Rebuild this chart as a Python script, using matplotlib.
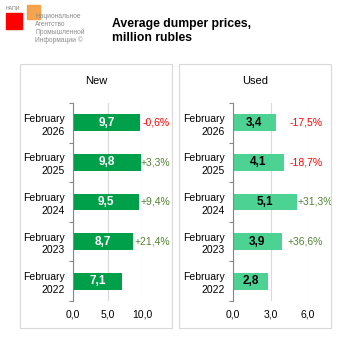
import matplotlib
matplotlib.use('Agg')
import matplotlib.pyplot as plt
from matplotlib.patches import Rectangle

plt.rcParams['font.family'] = ['Liberation Sans', 'DejaVu Sans']

# data
categories = ['February\n2026', 'February\n2025', 'February\n2024', 'February\n2023', 'February\n2022']
new_prices = [9.7, 9.8, 9.5, 8.7, 7.1]
new_change = ['-0,6%', '+3,3%', '+9,4%', '+21,4%', '']
used_prices = [3.4, 4.1, 5.1, 3.9, 2.8]
used_change = ['-17,5%', '-18,7%', '+31,3%', '+36,6%', '']
new_ticks = [0, 5, 10]
used_ticks = [0, 3, 6]

W = H = 353
fig = plt.figure(figsize=(3.53, 3.53), dpi=100)

def fx(px):
    return px / W

def fy(py):
    return 1 - py / H

# panel frames
for x0, x1 in [(20, 172), (179, 331)]:
    fig.patches.append(Rectangle((fx(x0), fy(328)), fx(x1 - x0), (328 - 64) / H,
                                 transform=fig.transFigure, fill=False,
                                 edgecolor='#D9D9D9', linewidth=0.8))

# logo
fig.patches.append(Rectangle((fx(6), fy(29)), fx(16), 16 / H, transform=fig.transFigure,
                             color='#FF0000', zorder=1))
fig.patches.append(Rectangle((fx(27), fy(19)), fx(13), 14 / H, transform=fig.transFigure,
                             color='#F59A3C', alpha=0.9, zorder=1))
fig.text(fx(6), fy(8.5), 'НАПИ', fontsize=3.8, color='#7F7F7F', va='center')
for i, s in enumerate(['Национальное', 'Агентство', 'Промышленной', 'Информации ©']):
    fig.text(fx(35), fy(17 + i * 7.6), s, fontsize=4.8, color='#8C8C8C', va='center')

fig.text(fx(112), fy(31), 'Average dumper prices,\nmillion rubles', fontsize=8.8,
         fontweight='bold', va='center', ha='left', linespacing=1.15)

def panel(left_px, right_px, xmax, vals, changes, ticks, color, lblcolor, title, title_x, col_px):
    ax = fig.add_axes([fx(left_px), fy(301), fx(right_px - left_px), 198 / H])
    y = list(range(len(vals)))
    ax.barh(y, vals, height=0.42, color=color, zorder=3)
    ax.set_xlim(0, xmax)
    ax.set_ylim(len(vals) - 0.5, -0.5)
    ax.set_xticks(ticks)
    ax.set_xticklabels([f'{t:.1f}'.replace('.', ',') for t in ticks], fontsize=7.5)
    ax.set_yticks(y)
    ax.set_yticklabels(categories, fontsize=7.5, linespacing=1.35)
    ax.set_yticks([i - 0.5 for i in range(len(vals) + 1)], minor=True)
    ax.tick_params(axis='y', which='major', length=0, pad=6)
    ax.tick_params(axis='y', which='minor', length=3, color='#868686', width=0.8)
    ax.tick_params(axis='x', length=0, pad=6)
    ax.grid(axis='x', color='#D9D9D9', linewidth=0.8, zorder=0)
    for s in ['top', 'right', 'bottom']:
        ax.spines[s].set_visible(False)
    ax.spines['left'].set_color('#868686')
    ax.spines['left'].set_linewidth(0.8)
    ax.spines['left'].set_zorder(4)
    for yi, v in zip(y, vals):
        ax.text(v / 2, yi, f'{v:.1f}'.replace('.', ','), ha='center', va='center',
                fontsize=8.5, fontweight='bold', color=lblcolor, zorder=4)
    col = (col_px - left_px) / (right_px - left_px) * xmax
    unit = xmax / (right_px - left_px)
    for yi, v, c in zip(y, vals, changes):
        if not c:
            continue
        ccol = '#FF0000' if c.startswith('-') else '#548235'
        if v + 29 * unit > col:
            ax.text(v + unit, yi, c, ha='left', va='center', fontsize=7.5, color=ccol,
                    clip_on=False, zorder=4)
        else:
            ax.text(col, yi, c, ha='right', va='center', fontsize=7.5, color=ccol,
                    clip_on=False, zorder=4)
    fig.text(fx(title_x), fy(81), title, fontsize=8, ha='center', va='center')
    return ax

panel(73, 142, 10, new_prices, new_change, new_ticks, '#00A04B', 'white', 'New', 96, 170)
panel(233, 308, 6, used_prices, used_change, used_ticks, '#4CD394', 'black', 'Used', 255, 323)

fig.savefig('out.png', dpi=100)
